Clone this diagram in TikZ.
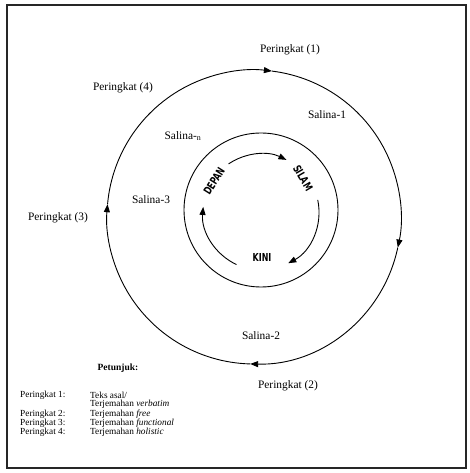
\documentclass[tikz,border=0pt]{standalone}
\usepackage{fontspec}
\setmainfont{Liberation Serif}
\newfontfamily\stencilfont[FakeStretch=0.8]{DejaVu Sans Condensed}
\usetikzlibrary{arrows.meta,positioning}

\begin{document}
\begin{tikzpicture}[
  x=1pt, y=1pt,
  >={Triangle[length=8pt,width=6pt]},
  frame/.style={draw, line width=1.2pt, black!85},
  ring/.style={line width=0.9pt},
  arrow/.style={->, line width=0.9pt},
  lbl/.style={font=\fontsize{11.4}{13}\selectfont, inner sep=0pt},
  word/.style={font=\stencilfont\bfseries\fontsize{11}{12}\selectfont, inner sep=0pt},
  key/.style={font=\fontsize{9.3}{11}\selectfont, inner sep=0pt, anchor=west}
]
\useasboundingbox (0,0) rectangle (469,473);
\draw[frame] (7,5) rectangle (466,468);

% rings
\coordinate (outer) at (254,256);
\coordinate (inner) at (261,263);
\coordinate (core) at (261,261);

\draw[arrow] ([shift={(175:147)}]outer) arc[start angle=175, end angle=83, radius=147];
\draw[arrow] ([shift={(83:147)}]outer) arc[start angle=83, end angle=-12, radius=147];
\draw[arrow] ([shift={(-12:147)}]outer) arc[start angle=-12, end angle=-91.5, radius=147];
\draw[arrow] ([shift={(-91.5:147)}]outer) arc[start angle=-91.5, end angle=-185, radius=147];

\draw[ring] (inner) circle[radius=77];

\draw[arrow] ([shift={(124:58)}]core) arc[start angle=124, end angle=64, radius=58];
\draw[arrow] ([shift={(12:58)}]core) arc[start angle=12, end angle=-62, radius=58];
\draw[arrow] ([shift={(-115:58)}]core) arc[start angle=-115, end angle=-185, radius=58];

\node[word, rotate=58] (depan) at (214,292) {DEPAN};
\node[word, rotate=-60] (silam) at (303,295) {SILAM};
\node[word] (kini) at (262,216) {KINI};

% labels
\node[lbl] (p1) at (290,423) {Peringkat (1)};
\node[lbl] (p4) at (123,385) {Peringkat (4)};
\node[lbl] (p3) at (58,255) {Peringkat (3)};
\node[lbl] (p2) at (288,87) {Peringkat (2)};
\node[lbl] (s1) at (327,358) {Salina-1};
\node[lbl] (sn) at (183,337) {Salina-\textsubscript{n}};
\node[lbl] (s3) at (151,273) {Salina-3};
\node[lbl] (s2) at (261,137) {Salina-2};

% legend
\node[font=\bfseries\fontsize{9.5}{11}\selectfont, inner sep=0pt] (hint) at (118,105) {Petunjuk:};
\node[key] (k1) at (20,78) {Peringkat 1:};
\node[key] (v1) at (90,78) {Teks asal/};
\node[key] (v1b) at (90,68.5) {Terjemahan \textit{verbatim}};
\node[key] (k2) at (20,59) {Peringkat 2:};
\node[key] (v2) at (90,59) {Terjemahan \textit{free}};
\node[key] (k3) at (20,50) {Peringkat 3:};
\node[key] (v3) at (90,50) {Terjemahan \textit{functional}};
\node[key] (k4) at (20,40.5) {Peringkat 4:};
\node[key] (v4) at (90,40.5) {Terjemahan \textit{holistic}};

\end{tikzpicture}
\end{document}
